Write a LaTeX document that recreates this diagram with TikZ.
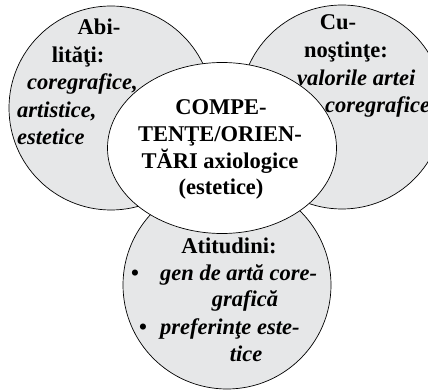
\documentclass[tikz,border=0pt]{standalone}
\usepackage{fontspec}
\setmainfont{Liberation Serif}
\usetikzlibrary{shapes.geometric}
\definecolor{blobgrey}{HTML}{E6E7E8}
\begin{document}
\begin{tikzpicture}[x=1pt,y=-1pt,
  blob/.style={draw=black,line width=0.7pt,fill=blobgrey,inner sep=0pt,outer sep=0pt},
  hd/.style={font=\fontsize{22.5}{27}\selectfont\bfseries,inner sep=0pt,anchor=base},
  itl/.style={font=\fontsize{22.5}{27}\selectfont\bfseries\itshape,inner sep=0pt,anchor=base west},
  itc/.style={font=\fontsize{22.5}{27}\selectfont\bfseries\itshape,inner sep=0pt,anchor=base}]
\useasboundingbox (0,0) rectangle (428,390);
\clip (0,0) rectangle (428,390);
\fill[white] (0,0) rectangle (428,390);
\node[blob,circle,minimum size=204pt] (L) at (111,108) {};
\node[blob,circle,minimum size=204pt] (R) at (342,107) {};
\node[blob,circle,minimum size=208pt] (B) at (227,285) {};
\node[blob,ellipse,fill=white,minimum width=229pt,minimum height=171pt] (C) at (222,148) {};
% left
\node[hd] (l1) at (99,35) {Abi-};
\node[hd] (l2) at (78,63) {lităţi:};
\node[itl] (l3) at (27,90) {coregrafice,};
\node[itl] (l4) at (17,118) {artistice,};
\node[itl] (l5) at (17,145) {estetice};
% right
\node[hd] (r1) at (338,30) {Cu-};
\node[hd] (r2) at (346,58) {noştinţe:};
\node[itl] (r3) at (297,86) {valorile artei};
\node[itl] (r4) at (325,113) {coregrafice};
% centre
\node[hd] (c1) at (221,115) {COMPE-};
\node[hd] (c2) at (220,142) {TENŢE/ORIEN-};
\node[hd] (c3) at (220,168) {TĂRI axiologice};
\node[hd] (c4) at (221,194) {(estetice)};
% bottom
\node[hd] (b1) at (229,253) {Atitudini:};
\node[hd,anchor=base west] (b2) at (131,280) {•};
\node[itl] (b3) at (160,280) {gen de artă core-};
\node[itc] (b4) at (245,306) {grafică};
\node[hd,anchor=base west] (b5) at (139,334) {•};
\node[itl] (b6) at (160,334) {preferinţe este-};
\node[itc] (b7) at (246,361) {tice};
\end{tikzpicture}
\end{document}
